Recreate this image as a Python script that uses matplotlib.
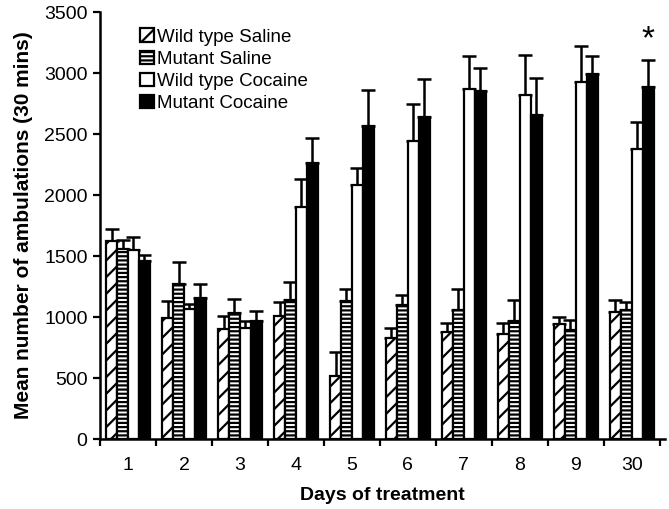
import numpy as np
import matplotlib
matplotlib.use("Agg")
import matplotlib.pyplot as plt

plt.rcParams["font.family"] = ["Liberation Sans", "DejaVu Sans"]
plt.rcParams["hatch.linewidth"] = 1.6

# data
days = ["1", "2", "3", "4", "5", "6", "7", "8", "9", "30"]
series = ["Wild type Saline", "Mutant Saline", "Wild type Cocaine", "Mutant Cocaine"]

wt_saline = [1620, 990, 900, 1010, 520, 830, 880, 860, 940, 1040]
wt_saline_err = [100, 140, 110, 115, 190, 80, 70, 90, 60, 100]
mut_saline = [1560, 1270, 1030, 1140, 1130, 1100, 1060, 970, 890, 1060]
mut_saline_err = [70, 180, 115, 150, 100, 80, 170, 170, 90, 60]
wt_cocaine = [1550, 1070, 910, 1900, 2080, 2440, 2870, 2820, 2930, 2380]
wt_cocaine_err = [110, 40, 60, 230, 140, 310, 270, 330, 290, 220]
mut_cocaine = [1460, 1160, 970, 2260, 2570, 2640, 2850, 2660, 2990, 2890]
mut_cocaine_err = [50, 110, 80, 210, 290, 310, 190, 300, 150, 220]

values = [wt_saline, mut_saline, wt_cocaine, mut_cocaine]
errors = [wt_saline_err, mut_saline_err, wt_cocaine_err, mut_cocaine_err]
faces = ["white", "white", "white", "black"]
hatches = ["//", "----", "", ""]

fig = plt.figure(figsize=(6.69, 5.09), dpi=100)
ax = fig.add_axes([0.1495, 0.1375, 0.845, 0.8385])

x = np.arange(len(days))
w = 0.195
for i in range(4):
    pos = x + (i - 1.5) * w
    ax.bar(pos, values[i], w, color=faces[i], edgecolor="black", linewidth=1.6,
           hatch=hatches[i], label=series[i], zorder=2)
    ax.errorbar(pos, values[i], yerr=[np.zeros(len(days)), errors[i]], fmt="none",
                ecolor="black", elinewidth=1.8, capsize=5, capthick=1.8, zorder=1)

ax.set_xlim(-0.5, 9.6)
ax.set_ylim(0, 3500)
ax.set_yticks(np.arange(0, 3501, 500))
ax.set_xticks(x)
ax.set_xticklabels(days)
ax.set_xticks(np.arange(-0.5, 9.6, 1), minor=True)
ax.tick_params(axis="x", which="major", length=0, pad=13, labelsize=14)
ax.tick_params(axis="x", which="minor", length=5, width=1.6)
ax.tick_params(axis="y", length=5, width=1.6, labelsize=14, pad=4)
for s in ["top", "right"]:
    ax.spines[s].set_visible(False)
for s in ["left", "bottom"]:
    ax.spines[s].set_linewidth(1.8)

ax.set_xlabel("Days of treatment", fontsize=14, fontweight="bold", labelpad=9)
ax.set_ylabel("Mean number of ambulations (30 mins)", fontsize=15, fontweight="bold", labelpad=8)

ax.text(9 + 1.5 * w, 3270, "*", ha="center", va="center", fontsize=24)

ax.legend(loc="upper left", bbox_to_anchor=(0.071, 0.962), frameon=False, fontsize=13.5,
          handlelength=0.75, handleheight=0.75, handletextpad=0.15, labelspacing=0.25,
          borderaxespad=0, borderpad=0)

fig.savefig("out.png", dpi=100)
